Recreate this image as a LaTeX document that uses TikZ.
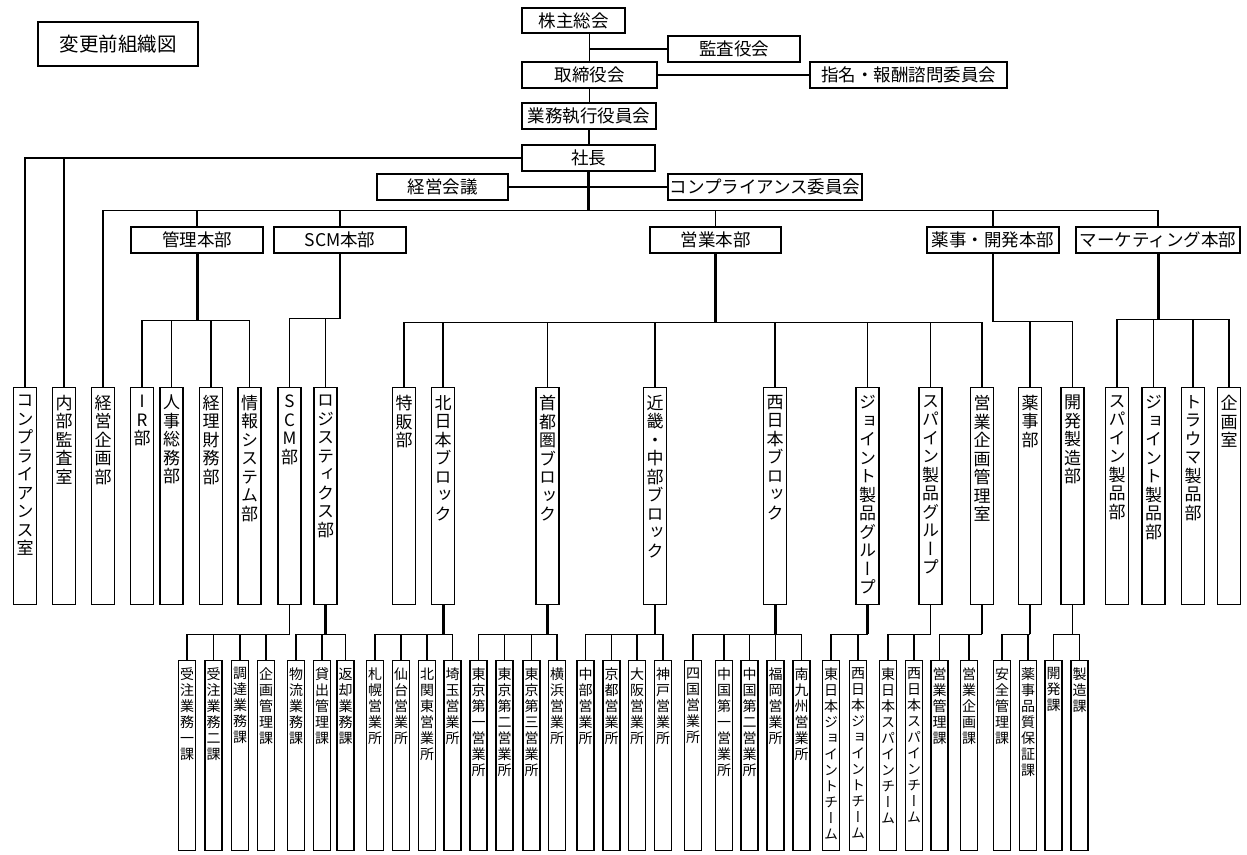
\documentclass[tikz,border=0pt]{standalone}
\usepackage{fontspec}
\newfontfamily\jp{Noto Sans CJK JP}
\newfontfamily\jpv[RawFeature=+vert]{Noto Sans CJK JP}
\usepackage{tikz}
\usetikzlibrary{positioning, calc}

% 縦書き（一文字ずつ積む）
\def\tatechars#1{\ifx#1\relax\else\hbox to 1em{\hss#1\hss}\expandafter\tatechars\fi}
\newcommand\tatebu[1]{\vbox to 210pt{\fontsize{17}{18.5}\jpv\vskip4pt\tatechars#1\relax\vss}}
\newcommand\tateka[1]{\vbox to 184pt{\fontsize{14}{16}\jpv\vskip4pt\tatechars#1\relax\vss}}

\begin{document}
\begin{tikzpicture}[x=1pt, y=-1pt,
    box/.style={draw, fill=white, line width=1.4pt, inner sep=0pt, minimum height=26pt, font=\fontsize{17.5}{17.5}\jp},
    bubox/.style={draw, fill=white, line width=1.4pt, anchor=north, inner xsep=0pt, inner ysep=3.5pt, minimum width=23pt},
    kabox/.style={draw, fill=white, line width=1.4pt, anchor=north, inner xsep=0pt, inner ysep=3pt, minimum width=17pt},
    link/.style={line width=1.3pt},
    trunk/.style={line width=3pt}]

    \useasboundingbox (0,0) rectangle (1247,854);

    % ================= 上部（会議体） =================
    \node[box, minimum width=160pt, minimum height=44pt, font=\fontsize{19.5}{19.5}\jp] (title) at (118,44) {変更前組織図};
    \node[box, minimum width=103pt, minimum height=25pt] (kabunushi) at (573.5,20.5) {株主総会};
    \node[box, minimum width=132pt] (kansa) at (734,49) {監査役会};
    \node[box, minimum width=135pt] (torishimari) at (589.5,75) {取締役会};
    \node[box, minimum width=197pt] (shimei) at (908.5,75) {指名・報酬諮問委員会};
    \node[box, minimum width=134pt] (shikko) at (589,116) {業務執行役員会};
    \node[box, minimum width=133pt] (shacho) at (588.5,158) {社長};
    \node[box, minimum width=131pt] (keieikaigi) at (442.5,187) {経営会議};
    \node[box, minimum width=194pt] (compiinkai) at (765,187) {コンプライアンス委員会};

    % ================= 本部 =================
    \node[box, minimum width=132pt] (kanri) at (197,240) {管理本部};
    \node[box, minimum width=132pt] (scmhonbu) at (340,240) {SCM本部};
    \node[box, minimum width=131pt] (eigyo) at (715.5,240) {営業本部};
    \node[box, minimum width=132pt] (yakuji) at (993,240) {薬事・開発本部};
    \node[box, minimum width=164pt] (marketing) at (1158,240) {マーケティング本部};

    % ================= 部・室 =================
    \node[bubox] (compshitsu) at (25,387) {\tatebu{コンプライアンス室}};
    \node[bubox] (naibu) at (64,387) {\tatebu{内部監査室}};
    \node[bubox] (keieikikaku) at (103,387) {\tatebu{経営企画部}};
    \node[bubox] (ir) at (142,387) {\tatebu{IR部}};
    \node[bubox] (jinji) at (171.5,387) {\tatebu{人事総務部}};
    \node[bubox] (keiri) at (211,387) {\tatebu{経理財務部}};
    \node[bubox] (joho) at (249.5,387) {\tatebu{情報システム部}};
    \node[bubox] (scm) at (289.5,387) {\tatebu{SCM部}};
    \node[bubox] (logi) at (325.5,387) {\tatebu{ロジスティクス部}};
    \node[bubox] (tokuhan) at (404,387) {\tatebu{特販部}};
    \node[bubox] (kitanihon) at (443,387) {\tatebu{北日本ブロック}};
    \node[bubox] (shutoken) at (547.5,387) {\tatebu{首都圏ブロック}};
    \node[bubox] (kinki) at (655,387) {\tatebu{近畿・中部ブロック}};
    \node[bubox] (nishinihon) at (775,387) {\tatebu{西日本ブロック}};
    \node[bubox] (joint) at (867.5,387) {\tatebu{ジョイント製品グループ}};
    \node[bubox] (spine) at (930.5,387) {\tatebu{スパイン製品グループ}};
    \node[bubox] (eigyokikaku) at (982,387) {\tatebu{営業企画管理室}};
    \node[bubox] (yakujibu) at (1030,387) {\tatebu{薬事部}};
    \node[bubox] (kaihatsu) at (1072.5,387) {\tatebu{開発製造部}};
    \node[bubox] (spinebu) at (1117,387) {\tatebu{スパイン製品部}};
    \node[bubox] (jointbu) at (1153.5,387) {\tatebu{ジョイント製品部}};
    \node[bubox] (trauma) at (1193,387) {\tatebu{トラウマ製品部}};
    \node[bubox] (kikaku) at (1229,387) {\tatebu{企画室}};

    % ================= 課・営業所・チーム =================
    \node[kabox] (juchu1) at (187,660) {\tateka{受注業務一課}};
    \node[kabox] (juchu2) at (213.5,660) {\tateka{受注業務二課}};
    \node[kabox] (chotatsu) at (240,660) {\tateka{調達業務課}};
    \node[kabox] (kikakukanri) at (266,660) {\tateka{企画管理課}};
    \node[kabox] (butsuryu) at (296,660) {\tateka{物流業務課}};
    \node[kabox] (kashidashi) at (322,660) {\tateka{貸出管理課}};
    \node[kabox] (henkyaku) at (345.5,660) {\tateka{返却業務課}};
    \node[kabox] (sapporo) at (375,660) {\tateka{札幌営業所}};
    \node[kabox] (sendai) at (401,660) {\tateka{仙台営業所}};
    \node[kabox] (kitakanto) at (427,660) {\tateka{北関東営業所}};
    \node[kabox] (saitama) at (452.5,660) {\tateka{埼玉営業所}};
    \node[kabox] (tokyo1) at (478.5,660) {\tateka{東京第一営業所}};
    \node[kabox] (tokyo2) at (504.5,660) {\tateka{東京第二営業所}};
    \node[kabox] (tokyo3) at (531.5,660) {\tateka{東京第三営業所}};
    \node[kabox] (yokohama) at (557,660) {\tateka{横浜営業所}};
    \node[kabox] (chubu) at (585.5,660) {\tateka{中部営業所}};
    \node[kabox] (kyoto) at (611.5,660) {\tateka{京都営業所}};
    \node[kabox] (osaka) at (637,660) {\tateka{大阪営業所}};
    \node[kabox] (kobe) at (663,660) {\tateka{神戸営業所}};
    \node[kabox] (shikoku) at (693,660) {\tateka{四国営業所}};
    \node[kabox] (chugoku1) at (724,660) {\tateka{中国第一営業所}};
    \node[kabox] (chugoku2) at (749.5,660) {\tateka{中国第二営業所}};
    \node[kabox] (fukuoka) at (775.5,660) {\tateka{福岡営業所}};
    \node[kabox] (minamikyushu) at (801.5,660) {\tateka{南九州営業所}};
    \node[kabox] (higashijoint) at (831,660) {\tateka{東日本ジョイントチーム}};
    \node[kabox] (nishijoint) at (858,660) {\tateka{西日本ジョイントチーム}};
    \node[kabox] (higashispine) at (888,660) {\tateka{東日本スパインチーム}};
    \node[kabox] (nishispine) at (914,660) {\tateka{西日本スパインチーム}};
    \node[kabox] (eigyokanri) at (939.5,660) {\tateka{営業管理課}};
    \node[kabox] (eigyokikakuka) at (969,660) {\tateka{営業企画課}};
    \node[kabox] (anzen) at (1002,660) {\tateka{安全管理課}};
    \node[kabox] (hinshitsu) at (1028,660) {\tateka{薬事品質保証課}};
    \node[kabox] (kaihatsuka) at (1053.5,660) {\tateka{開発課}};
    \node[kabox] (seizo) at (1079.5,660) {\tateka{製造課}};

    % ================= 接続線 =================

    % 株主総会〜社長
    \draw[link] (kabunushi.south -| torishimari.north) -- (torishimari.north);
    \draw[link] (kansa.west) -- (kansa.west -| torishimari.north);
    \draw[link] (torishimari.east) -- (shimei.west);
    \draw[link] (torishimari.south) -- (torishimari.south |- shikko.north);
    \draw[link] (shikko.south) -- (shikko.south |- shacho.north);

    % 社長から直轄・本部へ
    \draw[trunk] (shacho.south) -- ++(0,39) coordinate (honbubar);
    \draw[link] (keieikaigi.east) -- (compiinkai.west);
    \draw[link] (shacho.west) -| (compshitsu.north);
    \draw[link] (shacho.west) -| (naibu.north);
    \draw[link] (honbubar) -| (keieikikaku.north);
    \draw[link] (honbubar) -| (kanri.north);
    \draw[link] (honbubar) -| (scmhonbu.north);
    \draw[link] (honbubar) -| (eigyo.north);
    \draw[link] (honbubar) -| (yakuji.north);
    \draw[link] (honbubar) -| (marketing.north);

    % 管理本部
    \draw[trunk] (kanri.south) -- ++(0,67) coordinate (kanribar);
    \draw[link] (kanribar) -| (ir.north);
    \draw[link] (kanribar) -| (jinji.north);
    \draw[link] (kanribar) -| (keiri.north);
    \draw[link] (kanribar) -| (joho.north);

    % SCM本部
    \draw[link] (scmhonbu.south) -- ++(0,65) coordinate (scmbar);
    \draw[link] (scmbar) -| (scm.north);
    \draw[link] (scmbar) -| (logi.north);

    % 営業本部
    \draw[trunk] (eigyo.south) -- ++(0,69) coordinate (eigyobar);
    \draw[link] (eigyobar) -| (tokuhan.north);
    \draw[link] (eigyobar) -| (kitanihon.north);
    \draw[link] (eigyobar) -| (shutoken.north);
    \draw[link] (eigyobar) -| (kinki.north);
    \draw[link] (eigyobar) -| (nishinihon.north);
    \draw[link] (eigyobar) -| (joint.north);
    \draw[link] (eigyobar) -| (spine.north);
    \draw[link] (eigyobar) -| (eigyokikaku.north);

    % 薬事・開発本部
    \draw[link] (yakuji.south) -- ++(0,68) coordinate (yakujibar);
    \draw[link] (yakujibar) -| (yakujibu.north);
    \draw[link] (yakujibar) -| (kaihatsu.north);

    % マーケティング本部
    \draw[trunk] (marketing.south) -- ++(0,66) coordinate (mktbar);
    \draw[link] (mktbar) -| (spinebu.north);
    \draw[link] (mktbar) -| (jointbu.north);
    \draw[link] (mktbar) -| (trauma.north);
    \draw[link] (mktbar) -| (kikaku.north);

    % 部から課・営業所へ
    \draw[link] (scm.south) -- ++(0,29) coordinate (scmbubar);
    \draw[link] (scmbubar) -| (juchu1.north);
    \draw[link] (scmbubar) -| (juchu2.north);
    \draw[link] (scmbubar) -| (chotatsu.north);
    \draw[link] (scmbubar) -| (kikakukanri.north);

    \draw[trunk] (logi.south) -- ++(0,29) coordinate (logibar);
    \draw[link] (logibar) -| (butsuryu.north);
    \draw[link] (logibar) -| (kashidashi.north);
    \draw[link] (logibar) -| (henkyaku.north);

    \draw[trunk] (kitanihon.south) -- ++(0,29) coordinate (kitabar);
    \draw[link] (kitabar) -| (sapporo.north);
    \draw[link] (kitabar) -| (sendai.north);
    \draw[link] (kitabar) -| (kitakanto.north);
    \draw[link] (kitabar) -| (saitama.north);

    \draw[trunk] (shutoken.south) -- ++(0,29) coordinate (shutobar);
    \draw[link] (shutobar) -| (tokyo1.north);
    \draw[link] (shutobar) -| (tokyo2.north);
    \draw[link] (shutobar) -| (tokyo3.north);
    \draw[link] (shutobar) -| (yokohama.north);

    \draw[link] (kinki.south) -- ++(0,29) coordinate (kinkibar);
    \draw[link] (kinkibar) -| (chubu.north);
    \draw[link] (kinkibar) -| (kyoto.north);
    \draw[link] (kinkibar) -| (osaka.north);
    \draw[link] (kinkibar) -| (kobe.north);

    \draw[trunk] (nishinihon.south) -- ++(0,29) coordinate (nishibar);
    \draw[link] (nishibar) -| (shikoku.north);
    \draw[link] (nishibar) -| (chugoku1.north);
    \draw[link] (nishibar) -| (chugoku2.north);
    \draw[link] (nishibar) -| (fukuoka.north);
    \draw[link] (nishibar) -| (minamikyushu.north);

    \draw[trunk] (joint.south) -- ++(0,29) coordinate (jointbar);
    \draw[link] (jointbar) -| (higashijoint.north);
    \draw[link] (jointbar) -| (nishijoint.north);

    \draw[link] (spine.south) -- ++(0,29) coordinate (spinebar);
    \draw[link] (spinebar) -| (higashispine.north);
    \draw[link] (spinebar) -| (nishispine.north);

    \draw[link] (eigyokikaku.south) -- ++(0,29) coordinate (ekbar);
    \draw[link] (ekbar) -| (eigyokanri.north);
    \draw[link] (ekbar) -| (eigyokikakuka.north);

    \draw[link] (yakujibu.south) -- ++(0,29) coordinate (yjbar);
    \draw[link] (yjbar) -| (anzen.north);
    \draw[link] (yjbar) -| (hinshitsu.north);

    \draw[link] (kaihatsu.south) -- ++(0,29) coordinate (khbar);
    \draw[link] (khbar) -| (kaihatsuka.north);
    \draw[link] (khbar) -| (seizo.north);

\end{tikzpicture}
\end{document}
